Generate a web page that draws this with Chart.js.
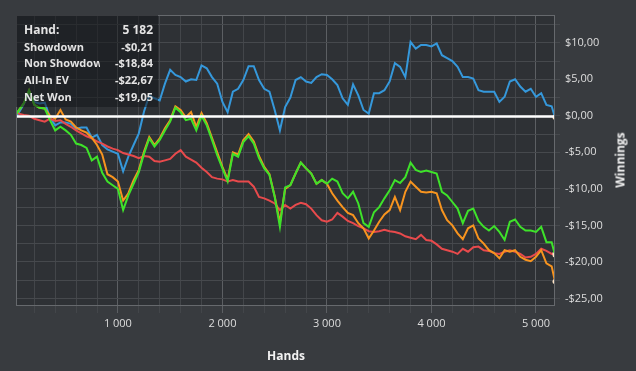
<!DOCTYPE html>
<html>
<head>
<meta charset="utf-8">
<script src="https://cdn.jsdelivr.net/npm/chart.js@4.4.1/dist/chart.umd.min.js"></script>
<style>
  html, body { margin: 0; padding: 0; background: #383b3f; }
  #wrap { position: relative; width: 636px; height: 371px; overflow: hidden; }
  #stats {
    position: absolute; left: 16px; top: 15px; width: 142px; height: 92px;
    background: rgba(20, 22, 25, 0.55);
    font-family: "Open Sans", sans-serif; font-weight: 700; color: #e4e4e4;
  }
  .row { position: absolute; left: 8px; right: 5px; height: 16px; line-height: 16px; font-size: 11px; }
  .row.big { font-size: 12px; }
  .row .lbl { position: absolute; left: 0; width: 76px; overflow: hidden; white-space: nowrap; }
  .row .val { position: absolute; right: 0; white-space: nowrap; }
  .title { position: absolute; font-family: "Open Sans", sans-serif; font-weight: 700; font-size: 12px; color: #f2f2f2; white-space: nowrap; }
  #yTitle { left: 620px; top: 160px; transform: translate(-50%, -50%) rotate(-90deg); }
  #xTitle { left: 286px; top: 355px; transform: translate(-50%, -50%); }
</style>
</head>
<body>
<div id="wrap">
  <canvas id="graph" width="636" height="371"></canvas>
  <div id="stats"></div>
  <div class="title" id="yTitle">Winnings</div>
  <div class="title" id="xTitle">Hands</div>
</div>
<script>
// Hand numbers where the lines are sampled
const hands = [30, 50, 100, 150, 200, 250, 300, 350, 400, 450, 500, 550, 600, 650, 700, 750, 800, 850,
  900, 950, 1000, 1050, 1100, 1150, 1200, 1250, 1300, 1350, 1400, 1450, 1500, 1550, 1600, 1650, 1700, 1750,
  1800, 1850, 1900, 1950, 2000, 2050, 2100, 2150, 2200, 2250, 2300, 2350, 2400, 2450, 2500, 2550, 2600,
  2650, 2700, 2750, 2800, 2850, 2900, 2950, 3000, 3050, 3100, 3150, 3200, 3250, 3300, 3350, 3400, 3450,
  3500, 3550, 3600, 3650, 3700, 3750, 3800, 3850, 3900, 3950, 4000, 4050, 4100, 4150, 4200, 4250, 4300,
  4350, 4400, 4450, 4500, 4550, 4600, 4650, 4700, 4750, 4800, 4850, 4900, 4950, 5000, 5050, 5100, 5150, 5182];

// Winnings in $ for each series
const showdown = [-0.1, 0.4, 1.6, 3.3, 1.9, 1.7, 1.8, -0.2, -1.3, -0.9, -0.9, -1.1, -1.8, -1.6, -1.6, -3.0, -2.6, -4.0,
  -4.6, -4.9, -5.2, -7.6, -5.6, -4.0, -2.4, 0.6, 2.8, 2.4, 2.1, 4.4, 6.3, 5.6, 5.3, 4.7, 5.0, 4.9,
  6.9, 6.5, 5.3, 4.4, 1.9, 0.5, 3.3, 3.7, 4.9, 6.8, 6.8, 4.9, 3.7, 3.3, 0.8, -2.0, 1.2,
  2.5, 4.9, 5.3, 4.7, 4.5, 5.3, 5.7, 5.6, 5.0, 4.2, 2.4, 1.5, 4.3, 2.8, 0.8, 0.3, 3.1,
  3.1, 3.5, 4.7, 7.2, 6.7, 5.3, 10.1, 9.2, 9.7, 9.7, 9.5, 9.9, 8.3, 7.9, 7.5, 6.7, 5.3,
  5.3, 5.1, 3.5, 3.3, 3.3, 3.3, 1.9, 2.6, 4.7, 5.0, 4.0, 3.3, 3.7, 2.6, 3.1, 1.5, 1.3, -0.21];

const nonShowdown = [0.5, 0.3, 0.1, 0.0, -0.4, -0.6, -0.8, -0.4, -0.7, -0.6, -1.1, -1.5, -2.0, -2.4, -2.8, -3.1, -3.5, -3.8,
  -4.2, -4.5, -4.7, -5.1, -5.3, -5.5, -5.8, -5.5, -5.6, -6.2, -6.3, -6.1, -5.9, -5.2, -4.7, -5.6, -6.0, -6.4,
  -7.1, -7.7, -8.4, -8.6, -8.7, -9.0, -8.8, -9.0, -9.0, -9.0, -9.7, -11.1, -11.3, -11.6, -12.0, -12.9, -12.2,
  -12.7, -12.2, -11.9, -12.1, -12.7, -13.6, -14.3, -14.5, -14.2, -13.3, -13.8, -14.4, -14.7, -15.1, -15.4, -15.8, -15.9,
  -15.8, -15.6, -15.8, -15.9, -16.1, -16.5, -16.7, -16.9, -16.3, -17.0, -17.1, -17.6, -18.2, -18.4, -18.6, -18.9, -18.2,
  -18.6, -18.0, -17.9, -18.4, -18.5, -18.8, -18.9, -18.6, -18.4, -18.6, -18.9, -19.4, -19.3, -18.9, -18.2, -18.5, -18.9, -18.84];

const allInEV = [0.3, 0.7, 1.7, 3.5, 1.5, 1.1, 1.0, 0.0, -0.4, 0.8, -0.5, -0.8, -1.6, -2.0, -2.3, -3.0, -4.0, -5.3,
  -8.0, -8.4, -9.0, -11.6, -10.6, -8.8, -7.4, -4.9, -2.9, -4.0, -3.1, -1.7, -0.6, 1.3, 0.8, -0.2, 0.5, -1.5,
  0.4, -1.0, -3.0, -5.0, -7.0, -8.7, -5.0, -5.3, -3.3, -2.5, -3.5, -5.5, -7.0, -8.0, -11.0, -14.6, -10.0,
  -9.5, -7.9, -6.4, -7.2, -7.9, -9.3, -8.8, -9.3, -10.6, -11.6, -12.5, -13.3, -13.6, -14.7, -15.4, -16.8, -15.7,
  -14.5, -13.5, -12.9, -11.1, -12.9, -10.4, -9.0, -9.7, -10.4, -10.5, -10.4, -10.6, -12.9, -14.3, -15.0, -16.1, -16.9,
  -15.4, -15.0, -16.8, -17.5, -18.4, -18.8, -19.5, -18.4, -18.6, -18.4, -19.3, -19.7, -19.9, -19.3, -18.4, -20.2, -20.6, -22.67];

const netWon = [0.3, 0.7, 1.7, 3.5, 1.5, 1.1, 1.0, -0.6, -2.0, -1.5, -2.0, -2.6, -3.8, -4.0, -4.4, -6.1, -5.6, -7.8,
  -9.0, -9.5, -10.0, -12.9, -10.9, -9.3, -7.7, -5.2, -3.1, -4.2, -3.3, -2.0, -0.8, 1.1, 0.5, -0.6, -0.4, -2.0,
  0.0, -1.3, -3.3, -5.4, -7.2, -9.0, -5.2, -5.6, -3.6, -2.8, -3.8, -5.8, -7.2, -8.1, -11.1, -15.2, -9.8,
  -9.5, -7.9, -6.4, -7.2, -7.9, -9.3, -8.8, -9.3, -8.6, -9.0, -10.6, -11.3, -10.4, -12.0, -14.7, -15.2, -13.2,
  -12.5, -11.3, -10.2, -8.8, -9.2, -8.4, -6.4, -7.4, -7.7, -7.5, -7.7, -7.9, -10.4, -10.9, -11.8, -12.7, -14.7,
  -13.0, -12.7, -14.4, -15.2, -15.7, -15.1, -15.9, -17.0, -14.5, -14.2, -15.2, -15.7, -15.7, -15.9, -15.2, -17.3, -17.3, -19.05];

// Summary box rows
const statLabels = ["Hand:", "Showdown", "Non Showdown", "All-In EV", "Net Won"];
const statValues = ["5 182", "-$0,21", "-$18,84", "-$22,67", "-$19,05"];

const xMin = 25, xMax = 5182, xStep = 200, xLabelEvery = 1000;
const yMin = -25.9, yMax = 13.8, yStep = 2.5, yLabelEvery = 5;

function fillStats() {
    const box = document.getElementById("stats");
    const tops = [7, 24, 40, 57, 74];
    statLabels.forEach((label, i) => {
        const row = document.createElement("div");
        row.className = i === 0 ? "row big" : "row";
        row.style.top = tops[i] + "px";
        row.innerHTML = `<span class="lbl">${label}</span><span class="val">${statValues[i]}</span>`;
        box.appendChild(row);
    });
}

function money(v) {
    const s = "$" + Math.abs(v).toFixed(2).replace(".", ",");
    return v < -1e-9 ? "-" + s : s;
}

function thousands(v) {
    return String(v).replace(/\B(?=(\d{3})+(?!\d))/g, " ");
}

function toPoints(values) {
    return hands.map((h, i) => ({ x: h, y: values[i] }));
}

const lastIndex = hands.length - 1;

function series(label, values, color, order) {
    return {
        label: label,
        data: toPoints(values),
        borderColor: color,
        backgroundColor: color,
        borderWidth: 2,
        tension: 0,
        pointRadius: ctx => ctx.dataIndex === lastIndex ? 2.5 : 0,
        pointBackgroundColor: "#ffe6c8",
        pointBorderWidth: 0,
        order: order
    };
}

// plot background, frame and the white zero line
const framePlugin = {
    id: "frame",
    beforeDraw(chart) {
        const { ctx, chartArea: a } = chart;
        ctx.save();
        ctx.fillStyle = "#2e3135";
        ctx.fillRect(a.left, a.top, a.right - a.left, a.bottom - a.top);
        ctx.restore();
    },
    afterDatasetsDraw(chart) {
        const { ctx, chartArea: a, scales } = chart;
        const y0 = Math.round(scales.y.getPixelForValue(0)) + 0.5;
        ctx.save();
        ctx.strokeStyle = "#ffffff";
        ctx.lineWidth = 2.5;
        ctx.beginPath();
        ctx.moveTo(a.left, y0);
        ctx.lineTo(a.right, y0);
        ctx.stroke();
        ctx.strokeStyle = "#66696d";
        ctx.lineWidth = 1;
        ctx.strokeRect(a.left + 0.5, a.top + 0.5, a.right - a.left - 1, a.bottom - a.top);
        ctx.restore();
    }
};

function buildChart() {
    const ctx = document.getElementById("graph").getContext("2d");
    new Chart(ctx, {
        type: "line",
        data: {
            datasets: [
                series("Net Won", netWon, "#3ee22a", 0),
                series("All-In EV", allInEV, "#f7941f", 1),
                series("Non Showdown", nonShowdown, "#e84a4c", 2),
                series("Showdown", showdown, "#3598db", 3)
            ]
        },
        options: {
            responsive: false,
            animation: false,
            devicePixelRatio: 1,
            layout: { padding: { left: 16, top: 15, right: 0, bottom: 0 } },
            plugins: { legend: { display: false }, tooltip: { enabled: false } },
            scales: {
                x: {
                    type: "linear",
                    min: xMin,
                    max: xMax,
                    afterBuildTicks: s => {
                        const t = [];
                        for (let v = xStep; v < xMax; v += xStep) t.push({ value: v });
                        s.ticks = t;
                    },
                    afterFit: s => { s.height = 66; },
                    ticks: {
                        autoSkip: false,
                        maxRotation: 0,
                        padding: 4,
                        color: "#dedede",
                        font: { family: "Open Sans", size: 11 },
                        callback: v => v % xLabelEvery === 0 ? thousands(v) : ""
                    },
                    grid: {
                        tickLength: 8,
                        color: c => c.tick && c.tick.value % xLabelEvery === 0 ? "#5c5f63" : "#43464a"
                    },
                    border: { display: false }
                },
                y: {
                    type: "linear",
                    position: "right",
                    min: yMin,
                    max: yMax,
                    afterBuildTicks: s => {
                        const t = [];
                        for (let v = -25; v <= 12.5; v += yStep) t.push({ value: v });
                        s.ticks = t;
                    },
                    afterFit: s => { s.width = 81; },
                    ticks: {
                        autoSkip: false,
                        padding: 5,
                        color: "#dedede",
                        font: { family: "Open Sans", size: 11 },
                        callback: v => Math.abs(v % yLabelEvery) < 1e-9 ? money(v) : ""
                    },
                    grid: {
                        tickLength: 5,
                        color: "#46494d"
                    },
                    border: { display: false }
                }
            }
        },
        plugins: [framePlugin]
    });
}

fillStats();
buildChart();
</script>
</body>
</html>
